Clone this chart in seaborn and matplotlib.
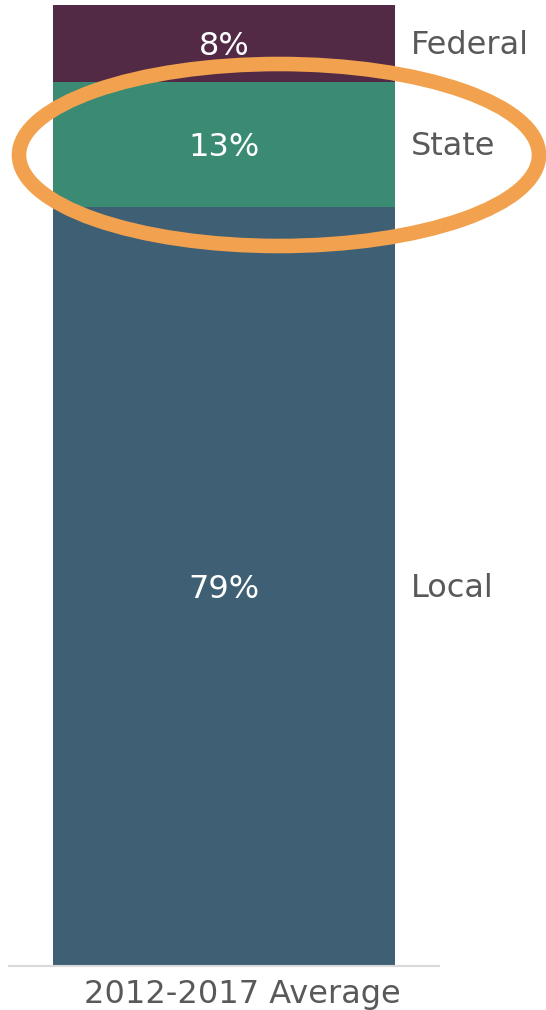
import matplotlib
matplotlib.use('Agg')
import matplotlib.pyplot as plt
import matplotlib.transforms as mtransforms
from matplotlib.patches import Ellipse
import seaborn as sns
import pandas as pd

# data
category = '2012-2017 Average'
sources = ['Local', 'State', 'Federal']
shares = [79, 13, 8]
colors = ['#3F6074', '#3B8A74', '#532A45']


def run():
    sns.set_theme(style='white')
    plt.rcParams['font.family'] = ['DejaVu Sans']

    fig = plt.figure(figsize=(5.46, 10.10), dpi=100)
    ax = fig.add_axes([9 / 546, 44 / 1010, 430 / 546, 961 / 1010])

    # stacked bar: draw cumulative totals from the top segment down
    cum = pd.Series(shares).cumsum().tolist()
    for i in reversed(range(len(sources))):
        df = pd.DataFrame({'cat': [category], 'val': [cum[i]]})
        sns.barplot(data=df, x='cat', y='val', color=colors[i], width=0.8,
                    saturation=1, linewidth=0, ax=ax)

    ax.set_xlim(-0.5015, 0.5015)
    ax.set_ylim(0, 100)
    ax.set_xlabel('')
    ax.set_ylabel('')
    ax.set_yticks([])
    ax.tick_params(axis='x', length=0, pad=9, labelsize=23, labelcolor='#595959')
    # the category label sits a little right of the bar centre
    shift = mtransforms.ScaledTranslation(18 / 100, 0, fig.dpi_scale_trans)
    for lbl in ax.get_xticklabels():
        lbl.set_transform(lbl.get_transform() + shift)
    for s in ['top', 'left', 'right']:
        ax.spines[s].set_visible(False)
    ax.spines['bottom'].set_color('#D9D9D9')
    ax.spines['bottom'].set_linewidth(1.5)

    bottom = 0
    for name, val in zip(sources, shares):
        mid = bottom + val / 2
        ax.text(0, mid, f'{val}%', ha='center', va='center_baseline',
                color='white', fontsize=23)
        ax.text(0.435, mid + 0.1, name, ha='left', va='center_baseline',
                color='#595959', fontsize=23)
        bottom += val

    ell = Ellipse((279 / 546, 1 - 155 / 1010), 520 / 546, 182 / 1010,
                  transform=fig.transFigure, fill=False, edgecolor='#F2A24E',
                  linewidth=10.5, zorder=10)
    fig.add_artist(ell)

    fig.savefig('out.png', dpi=100)


if __name__ == '__main__':
    run()
